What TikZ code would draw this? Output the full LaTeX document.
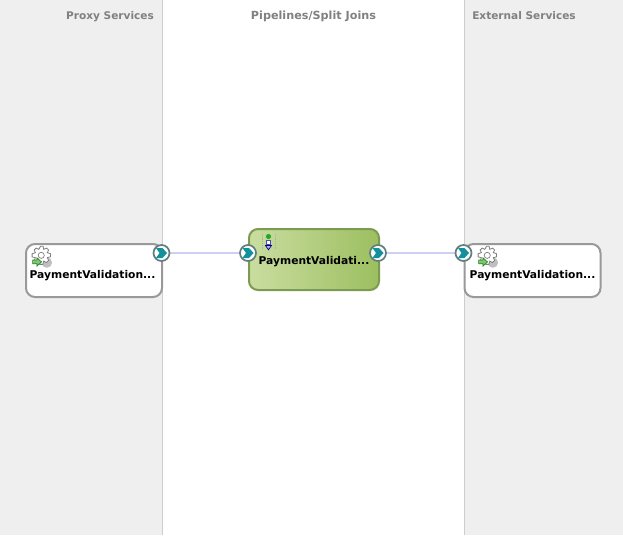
\documentclass[tikz,border=0pt]{standalone}
\usepackage{fontspec}
\setmainfont{DejaVu Sans}
\usetikzlibrary{backgrounds,calc}
\definecolor{panelgray}{HTML}{EFEFEF}
\definecolor{panelline}{HTML}{CDCDCD}
\definecolor{headgray}{HTML}{808080}
\definecolor{boxline}{HTML}{999999}
\definecolor{pipeline}{HTML}{7C9A52}
\definecolor{pipeleft}{HTML}{CADDA0}
\definecolor{piperight}{HTML}{9CBF60}
\definecolor{wire}{HTML}{CFCFF6}
\definecolor{portteal}{HTML}{12909C}
\definecolor{portring}{HTML}{5F7F7F}
\definecolor{gearline}{HTML}{808080}
\definecolor{arrowgreen}{HTML}{78CC68}
\definecolor{arrowedge}{HTML}{2F7F2F}
\definecolor{dotgray}{HTML}{A8B8A0}
\tikzset{
  x=1pt,y=-1pt,
  head/.style={font=\bfseries\fontsize{10.55}{13}\selectfont,text=headgray,inner sep=0pt,anchor=base},
  headwide/.style={head,font=\bfseries\fontsize{11.2}{13}\selectfont},
  svcbox/.style={draw=boxline,line width=2pt,fill=white,rounded corners=9pt,minimum width=136pt,minimum height=53pt,inner sep=0pt},
  pipebox/.style={draw=pipeline,line width=2pt,rounded corners=9pt,left color=pipeleft,right color=piperight,minimum width=130pt,minimum height=61pt,inner sep=0pt},
  lbl/.style={font=\bfseries\fontsize{10.7}{14}\selectfont,text=black,inner sep=0pt,anchor=base},
  portnode/.style={circle,draw=portring,line width=1.7pt,fill=white,minimum size=16pt,inner sep=0pt},
  wireline/.style={draw=wire,line width=2.2pt},
}
\newcommand{\chev}[1]{\fill[portteal] ($(#1)+(-5.5,-5)$) -- ($(#1)+(1,-5)$) -- ($(#1)+(5.5,0)$) -- ($(#1)+(1,5)$) -- ($(#1)+(-5.5,5)$) -- ($(#1)+(-2,0)$) -- cycle;}
\newcommand{\gearicon}[2]{%
  \begin{scope}[shift={(#1,#2)},scale=1.27]
    \fill[gray!50] (5,3.6) circle (4.1);
    \draw[gearline,fill=white,line width=.8pt]
      (0,-9.3) -- (2,-9.3) -- (2.6,-6.8) -- (4.8,-7.8) -- (6.4,-6.3) -- (5.3,-4.2) -- (7.8,-3.4) -- (7.8,-.9) -- (5.4,-.3)
      -- (6.4,2) -- (4.6,3.6) -- (2.6,2.4) -- (1.8,5) -- (-.6,5) -- (-1.2,2.4) -- (-3.3,3.6) -- (-5,2) -- (-4,-.2)
      -- (-6.6,-.9) -- (-6.6,-3.4) -- (-4,-4.2) -- (-5,-6.3) -- (-3.4,-7.8) -- (-1.3,-6.8) -- cycle;
    \draw[gearline,fill=white,line width=.7pt] (.6,-2.1) circle (2.4);
    \fill[arrowgreen,draw=arrowedge,line width=.7pt] (-6.2,1.6) -- (-2.8,1.6) -- (-2.8,-.2) -- (.8,3.1) -- (-2.8,6.4) -- (-2.8,4.6) -- (-6.2,4.6) -- cycle;
  \end{scope}}
\begin{document}
\begin{tikzpicture}
\useasboundingbox (0,0) rectangle (623,535);
\begin{scope}[on background layer]
  \fill[panelgray] (0,0) rectangle (623,535);
  \fill[white] (162.5,0) rectangle (464.5,535);
  \draw[panelline,line width=1pt] (162.5,0) -- (162.5,535);
  \draw[panelline,line width=1pt] (464.5,0) -- (464.5,535);
\end{scope}

\node[head] (h1) at (110,19.5) {Proxy Services};
\node[headwide] (h2) at (313.5,19.5) {Pipelines/Split Joins};
\node[head] (h3) at (524,19.5) {External Services};

\node[svcbox] (proxy) at (94,270.5) {};
\node[pipebox] (pipe) at (314,259.5) {};
\node[svcbox] (ext) at (532.5,270.5) {};

\node[lbl] (proxylbl) at (92.5,278) {PaymentValidation...};
\node[lbl] (pipelbl) at (314,264) {PaymentValidati...};
\node[lbl] (extlbl) at (532.5,278) {PaymentValidation...};

\gearicon{40.5}{258}
\gearicon{486.5}{258}

% pipeline flow icon
\draw[dotgray,line width=.8pt,densely dotted] (262,234) -- (262,250);
\draw[dotgray,line width=.8pt,densely dotted] (275,234) -- (275,250);
\fill[green!60!black!85!white] (268.5,236.5) circle (2.6);
\draw[gray!60!blue,fill=white,line width=.7pt] (266.3,240.5) rectangle (270.7,244);
\draw[blue!50!black,fill=blue!30!white,line width=.7pt] (265.5,245.5) -- (271.5,245.5) -- (268.5,249.8) -- cycle;

\node[portnode] (p1) at (161.5,253) {};
\node[portnode] (p2) at (248,253) {};
\node[portnode] (p3) at (378,253) {};
\node[portnode] (p4) at (463.5,253) {};
\chev{p1} \chev{p2} \chev{p3} \chev{p4}

\begin{scope}[on background layer]
  \draw[wireline] (p1) -- (p2);
  \draw[wireline] (p3) -- (p4);
\end{scope}
\end{tikzpicture}
\end{document}
